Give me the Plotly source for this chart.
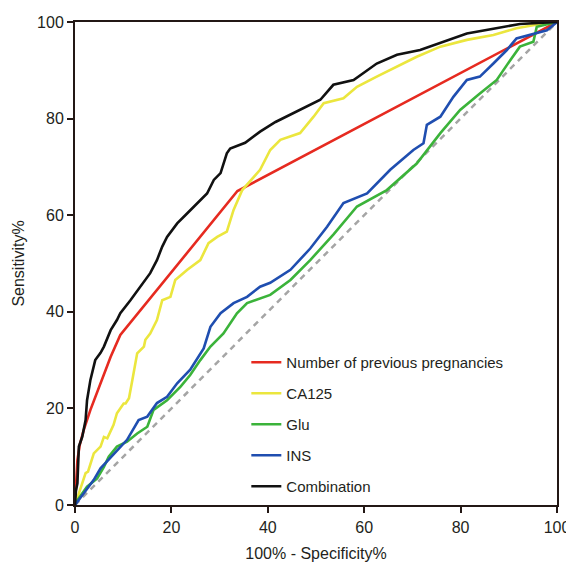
import plotly.graph_objects as go

# Data
preg_x = [0, 0.2, 0.5, 1, 1.8, 3.2, 5.3, 7.4, 9.4, 33.7, 100]
preg_y = [0, 5, 9.3, 12.5, 15.5, 19.7, 25.2, 30.7, 35.2, 65, 100]

ca125_x = [0, 1.1, 2.2, 2.7, 3.6, 3.9, 5.3, 6.0, 6.7, 8, 8.7, 10.1, 10.5, 11.2, 11.9, 12.9, 14.3, 14.6,
           15.6, 17, 18.1, 19.8, 20.8, 23.3, 26, 27.7, 29.5, 31.5, 32.9, 34.7, 38.4, 40.5, 42.6,
           46.7, 49.5, 51.6, 55.7, 58.5, 62.6, 66.8, 70.9, 75.8, 81.3, 86.8, 91.6, 96.5, 100]
ca125_y = [0, 3.1, 6.6, 6.9, 9.7, 10.7, 12.1, 14.1, 13.8, 16.6, 19, 21, 21, 22.1, 25.9, 31.4, 32.8, 34.2,
           35.5, 38.3, 42.4, 43.1, 46.6, 48.7, 50.7, 54.2, 55.5, 56.6, 61.1, 65.2, 69.4, 73.5, 75.6,
           77, 80.4, 83.2, 84.2, 86.6, 88.7, 90.7, 92.8, 94.9, 96.3, 97.3, 98.7, 99.6, 100]

glu_x = [0, 0.5, 2.5, 4.6, 6, 7, 8.7, 10.8, 12.9, 15, 16.3, 19.1, 21.9, 23.9, 26, 28.1, 30.8,
         33.6, 35.7, 38.4, 40.5, 44.7, 48.8, 53.6, 58.5, 64.7, 70.9, 75.8, 79.9, 84, 87.5,
         90.3, 92.3, 95.1, 95.8, 100]
glu_y = [0, 1, 3.8, 5.5, 7.9, 10, 12.1, 13.1, 14.8, 16.2, 19.7, 21.7, 24.5, 26.9, 30, 32.8, 35.5,
         39.7, 41.8, 42.8, 43.5, 46.6, 50.7, 56, 61.8, 65.2, 70.7, 77, 81.8, 85.2, 88,
         92.1, 94.9, 95.9, 99, 100]

ins_x = [0, 1.5, 3.9, 5.3, 8, 10.8, 13.2, 15, 17, 19.1, 21.2, 23.9, 26.7, 28.1, 30.2, 32.9, 35.7,
         38.4, 40.5, 44.7, 48.8, 52.3, 55.7, 60.6, 65.4, 70.2, 72.3, 73, 75.8, 78.5, 81.3, 84,
         86.8, 89.6, 91.6, 95.1, 97.9, 100]
ins_y = [0, 2, 5.2, 7.6, 10.4, 13.5, 17.6, 18.3, 21.1, 22.4, 25.2, 28, 32.4, 36.9, 39.7, 41.8, 43.1,
         45.2, 46, 48.7, 53.1, 57.6, 62.5, 64.5, 69.4, 73.5, 74.9, 78.7, 80.4, 84.5, 88, 88.7,
         91.4, 94.2, 96.6, 97.6, 98.3, 100]

comb_x = [0, 0.2, 0.5, 0.8, 1.5, 2.2, 2.5, 3.2, 4.2, 5.3, 6, 7.4, 8.7, 9.4, 11.5, 13.6, 15.6, 17,
          18.1, 19.1, 21.2, 23.3, 25.3, 27.4, 28.8, 30.2, 31.5, 32.2, 35.3, 38.4, 41.6, 44.7,
          46.7, 50.9, 53.6, 57.8, 62.6, 66.8, 71.6, 76.4, 81.3, 86.8, 92.3, 100]
comb_y = [0, 3, 4.5, 12.1, 14.1, 17.6, 21.7, 25.9, 30, 31.5, 32.8, 36.2, 38.3, 39.7, 42.4, 45.2, 48,
          50.7, 53.5, 55.5, 58.3, 60.4, 62.5, 64.5, 67.3, 68.7, 72.8, 73.8, 75, 77.3, 79.3, 80.8,
          81.8, 83.9, 87, 88, 91.4, 93.2, 94.2, 95.9, 97.6, 98.6, 99.6, 100]

ref_x = [0, 100]
ref_y = [0, 100]

series = [
    ("Number of previous pregnancies", preg_x, preg_y, "#e62a20"),
    ("CA125", ca125_x, ca125_y, "#ebe63e"),
    ("Glu", glu_x, glu_y, "#3bb33a"),
    ("INS", ins_x, ins_y, "#1f4eb0"),
    ("Combination", comb_x, comb_y, "#111111"),
]

FONT = "Liberation Sans, Arial"
TXT = "#231f20"

fig = go.Figure()
fig.add_trace(go.Scatter(x=ref_x, y=ref_y, mode="lines", showlegend=False,
                         line=dict(color="#a5a5a5", width=2.5, dash="6px,5px"),
                         cliponaxis=False, hoverinfo="skip"))
for i, (name, xs, ys, col) in enumerate(series):
    fig.add_trace(go.Scatter(x=xs, y=ys, mode="lines", name=name, legendgroup=f"g{i}",
                             line=dict(color=col, width=2.6), cliponaxis=False))

axis_common = dict(
    showline=True, linewidth=2, linecolor="#231815", mirror=True,
    ticks="outside", ticklen=6, tickwidth=2, tickcolor="#231815",
    showgrid=False, zeroline=False, automargin=False,
    tickfont=dict(family=FONT, size=16, color=TXT),
    range=[0, 100], tickvals=[0, 20, 40, 60, 80, 100],
)

# page has an 8px body margin; figure coordinates = page coordinates - 8
OFF = 8
L, R, T, B = 74.5 - OFF, 557 - OFF, 22 - OFF, 505 - OFF
W, H = 574 - OFF, 562 - OFF
pw = R - L
ph = B - T

fig.update_layout(
    width=W, height=H,
    margin=dict(l=L, r=W - R, t=T, b=H - B),
    paper_bgcolor="white", plot_bgcolor="white",
    font=dict(family=FONT, color=TXT),
    xaxis=dict(**axis_common, ticklabelstandoff=1,
               title=dict(text="100% - Specificity%", standoff=15,
                          font=dict(family=FONT, size=16, color=TXT))),
    yaxis=dict(**axis_common,
               title=dict(text="Sensitivity%", standoff=8,
                          font=dict(family=FONT, size=16, color=TXT))),
    legend=dict(x=(246 - 74.5) / pw, y=(505 - 346) / ph, xanchor="left", yanchor="top",
                font=dict(family=FONT, size=15, color=TXT),
                bgcolor="rgba(0,0,0,0)", tracegroupgap=8.5),
    showlegend=True,
)

fig.write_html("out.html")
